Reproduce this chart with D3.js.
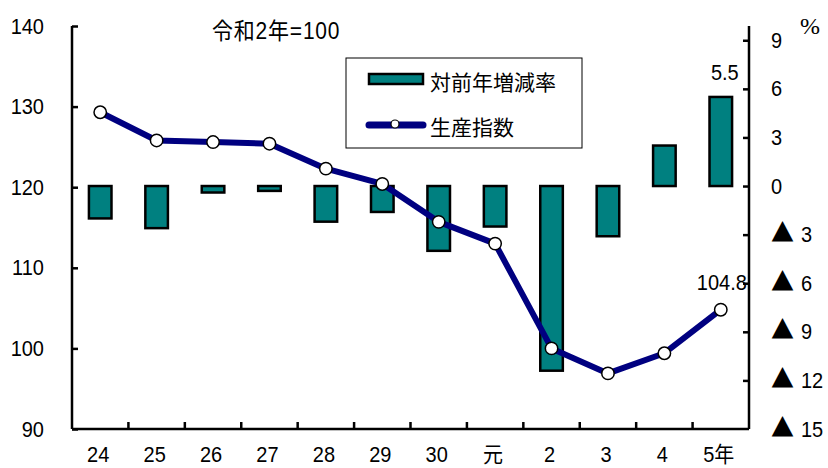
<!DOCTYPE html>
<html>
<head>
<meta charset="utf-8">
<script src="https://cdn.jsdelivr.net/npm/d3@7"></script>
<style>
  html, body { margin: 0; padding: 0; background: #fff; }
  svg text { font-family: "Liberation Sans", "Noto Sans CJK JP", sans-serif; fill: #000; }
</style>
</head>
<body>
<svg id="chart" width="828" height="468"></svg>
<script>
// Fiscal-year labels (平成24年 … 令和5年)
const years = ["24", "25", "26", "27", "28", "29", "30", "元", "2", "3", "4", "5年"];
// 生産指数 (令和2年=100)
const indexValues = [129.3, 125.8, 125.6, 125.4, 122.3, 120.4, 115.7, 113.0, 100.0, 96.9, 99.4, 104.8];
// 対前年増減率 (%)
const changeValues = [-2.0, -2.6, -0.4, -0.3, -2.2, -1.6, -4.0, -2.5, -11.4, -3.1, 2.5, 5.5];
const leftTicks = [90, 100, 110, 120, 130, 140];
const rightTicks = [9, 6, 3, 0, -3, -6, -9, -12, -15];

const svg = d3.select("#chart");
const plot = { left: 72, right: 749, top: 26, bottom: 429 };

// Text helper: slightly tall glyphs, positioned by translate so the stretch stays local
function label(parent, px, py, str, size, anchor) {
  return parent.append("text")
    .attr("transform", `translate(${px},${py}) scale(1,1.1)`)
    .attr("text-anchor", anchor || "start")
    .attr("font-size", size)
    .text(str);
}

const x = d3.scaleBand().domain(years).range([plot.left, plot.right]).paddingInner(0).paddingOuter(0);
const yL = d3.scaleLinear().domain([90, 140]).range([plot.bottom, plot.top]);
const yR = d3.scaleLinear().domain([-15, 9.88]).range([plot.bottom, plot.top]);

// Bars: year-on-year change, drawn against the right axis
svg.append("g").selectAll("rect").data(changeValues).join("rect")
  .attr("x", (d, i) => x(years[i]) + x.bandwidth() * 0.3)
  .attr("width", x.bandwidth() * 0.4)
  .attr("y", d => yR(Math.max(0, d)))
  .attr("height", d => Math.abs(yR(d) - yR(0)))
  .attr("fill", "#008080")
  .attr("stroke", "#000")
  .attr("stroke-width", 2.5);

// Left axis
const gL = svg.append("g").attr("transform", `translate(${plot.left},0)`)
  .call(d3.axisRight(yL).tickValues(leftTicks).tickSize(6).tickFormat(""));
gL.select(".domain").attr("stroke-width", 2.5).attr("d", `M0,${plot.top}V${plot.bottom}`);
gL.selectAll(".tick line").attr("stroke-width", 2.5);
const gLl = svg.append("g");
leftTicks.forEach(v => label(gLl, 44, yL(v) + 7.5, v, 20, "end"));

// Right axis
const gR = svg.append("g").attr("transform", `translate(${plot.right},0)`)
  .call(d3.axisLeft(yR).tickValues(rightTicks.filter(v => v > -15)).tickSize(6).tickFormat(""));
gR.select(".domain").attr("stroke-width", 2.5).attr("d", `M0,${plot.top}V${plot.bottom}`);
gR.selectAll(".tick line").attr("stroke-width", 2.5);
const gRl = svg.append("g");
rightTicks.forEach(v => {
  if (v >= 0) {
    label(gRl, 771, yR(v) + 7.5, v, 20);
  } else {
    const t = label(gRl, 771, yR(v) + 7.5, "", 20);
    t.append("tspan").attr("font-family", "Noto Sans CJK JP").attr("font-size", 23).text("▲");
    t.append("tspan").attr("dx", 7).text(Math.abs(v));
  }
});
svg.append("text").attr("x", 800).attr("y", 34)
  .style("font-family", "'Liberation Serif', 'DejaVu Serif', serif")
  .attr("font-size", 24).text("%");

// Bottom axis with category separators
const gX = svg.append("g").attr("transform", `translate(0,${plot.bottom})`)
  .call(d3.axisTop(x).tickSize(0).tickFormat(""));
gX.select(".domain").attr("stroke-width", 2.5).attr("d", `M${plot.left},0H${plot.right}`);
gX.selectAll(".tick").remove();
svg.append("g").selectAll("line").data(years.slice(1)).join("line")
  .attr("x1", d => x(d)).attr("x2", d => x(d))
  .attr("y1", plot.bottom).attr("y2", plot.bottom - 7)
  .attr("stroke", "#000").attr("stroke-width", 2.5);
const gXl = svg.append("g");
years.forEach(d => label(gXl, x(d) + x.bandwidth() / 2 - 2, 462, d, 20, "middle"));

// Production index line
const line = d3.line().x((d, i) => x(years[i]) + x.bandwidth() / 2).y(d => yL(d));
svg.append("path").datum(indexValues).attr("d", line)
  .attr("fill", "none").attr("stroke", "#000080").attr("stroke-width", 6)
  .attr("stroke-linejoin", "round");
svg.append("g").selectAll("circle").data(indexValues).join("circle")
  .attr("cx", (d, i) => x(years[i]) + x.bandwidth() / 2).attr("cy", d => yL(d))
  .attr("r", 6.2).attr("fill", "#fff").attr("stroke", "#000").attr("stroke-width", 1.5);

// Value labels for the latest year
const last = years.length - 1;
const gV = svg.append("g");
label(gV, x(years[last]) + x.bandwidth() / 2 + 4, yR(changeValues[last]) - 17,
  changeValues[last].toFixed(1), 20, "middle");
label(gV, x(years[last]) + x.bandwidth() / 2 + 1, yL(indexValues[last]) - 20,
  indexValues[last].toFixed(1), 20, "middle");

// Base-year note
label(svg, 212, 39, "令和2年=100", 21).attr("letter-spacing", 0.8);

// Legend
const lg = svg.append("g");
lg.append("rect").attr("x", 346).attr("y", 58).attr("width", 236).attr("height", 90)
  .attr("fill", "#fff").attr("stroke", "#000").attr("stroke-width", 1);
lg.append("rect").attr("x", 369).attr("y", 74).attr("width", 54).attr("height", 10)
  .attr("fill", "#008080").attr("stroke", "#000").attr("stroke-width", 2.5);
lg.append("text").attr("x", 430).attr("y", 82).attr("dy", "0.36em").attr("font-size", 21).text("対前年増減率");
lg.append("line").attr("x1", 369).attr("x2", 423).attr("y1", 125).attr("y2", 125)
  .attr("stroke", "#000080").attr("stroke-width", 7).attr("stroke-linecap", "round");
lg.append("circle").attr("cx", 395).attr("cy", 124).attr("r", 4)
  .attr("fill", "#fff").attr("stroke", "#000").attr("stroke-width", 1.2);
lg.append("text").attr("x", 430).attr("y", 127).attr("dy", "0.36em").attr("font-size", 21).text("生産指数");
</script>
</body>
</html>
